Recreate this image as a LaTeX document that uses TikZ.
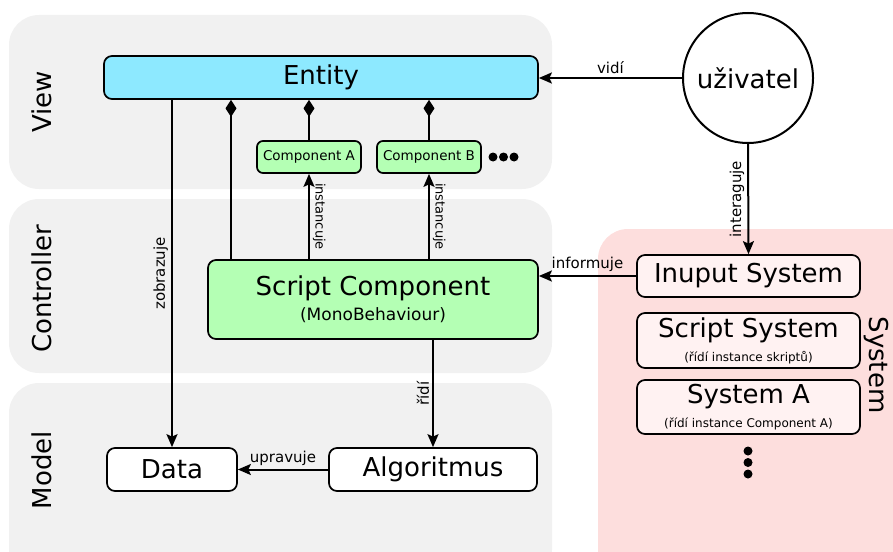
\documentclass[tikz,border=0pt]{standalone}
\usepackage{fontspec}
\setmainfont{DejaVu Sans}
\usetikzlibrary{arrows.meta}
\definecolor{panelgray}{RGB}{241,241,241}
\definecolor{syspink}{RGB}{253,222,221}
\definecolor{entitycyan}{RGB}{141,233,255}
\definecolor{compgreen}{RGB}{180,255,180}
\definecolor{sysbox}{RGB}{255,242,242}
\begin{document}
\begin{tikzpicture}[x=1pt,y=-1pt,
    box/.style={draw, line width=1.7pt, rounded corners=8pt, align=center, inner sep=0pt},
    big/.style={font=\fontsize{26}{28}\selectfont},
    lbl/.style={font=\fontsize{15}{17}\selectfont, inner sep=3pt},
    small/.style={font=\fontsize{13}{15}\selectfont, inner sep=3pt},
    arr/.style={line width=2pt, -{Stealth[length=13pt,width=11pt,inset=2.5pt]}},
    part/.style={line width=2pt, -{Diamond[length=17pt,width=11pt]}},
    panel/.style={rounded corners=30pt}]
  \useasboundingbox (0,0) rectangle (893,551);
  \begin{scope}
    \clip (0,0) rectangle (893,551);
    \fill[panel, panelgray] (9,15) rectangle (552,189);
    \fill[panel, panelgray] (9,199) rectangle (552,373);
    \fill[panel, panelgray] (9,383) rectangle (552,580);
    \fill[panel, syspink] (598,229) rectangle (924,580);
  \end{scope}

  \node[big, rotate=90] (view) at (42,102) {View};
  \node[big, rotate=90] (controller) at (42,289) {Controller};
  \node[big, rotate=90] (model) at (42,470) {Model};
  \node[big, rotate=-90] (system) at (876,365) {System};

  \node[box, big, fill=entitycyan, minimum width=434pt, minimum height=43pt] (entity) at (321,77.5) {Entity};
  \node[draw, circle, line width=2pt, fill=white, minimum size=130pt, big] (user) at (748,78) {uživatel};
  \node[box, fill=compgreen, rounded corners=6pt, minimum width=104pt, minimum height=32pt,
        font=\fontsize{13.5}{15}\selectfont] (compa) at (309,157) {Component A};
  \node[box, fill=compgreen, rounded corners=6pt, minimum width=104pt, minimum height=32pt,
        font=\fontsize{13.5}{15}\selectfont] (compb) at (429,157) {Component B};
  \fill (493,157) circle[radius=4.5pt] (503.5,157) circle[radius=4.5pt] (514,157) circle[radius=4.5pt];

  \node[box, big, fill=compgreen, minimum width=330pt, minimum height=79pt] (script) at (373,299.5)
    {Script Component\\[-3pt]\fontsize{17}{19}\selectfont(MonoBehaviour)};
  \node[box, big, fill=white, minimum width=130pt, minimum height=43pt] (data) at (172,469.5) {Data};
  \node[box, big, fill=white, minimum width=208pt, minimum height=43pt] (algo) at (433,469.5) {Algoritmus};

  \node[box, big, fill=sysbox, minimum width=223pt, minimum height=42pt] (input) at (748.5,276) {Inuput System};
  \node[box, big, fill=sysbox, minimum width=223pt, minimum height=55pt] (scriptsys) at (748.5,340.5)
    {Script System\\[-4pt]\fontsize{12}{13}\selectfont(řídí instance skriptů)};
  \node[box, big, fill=sysbox, minimum width=223pt, minimum height=54pt] (sysa) at (748.5,407)
    {System A\\[-4pt]\fontsize{12}{13}\selectfont(řídí instance Component A)};
  \fill (748,451) circle[radius=4.5pt] (748,462.5) circle[radius=4.5pt] (748,474) circle[radius=4.5pt];

  \coordinate (own) at (231,0);
  \draw[part] (own |- script.north) -- (own |- entity.south);
  \draw[part] (compa.north) -- (compa.north |- entity.south);
  \draw[part] (compb.north) -- (compb.north |- entity.south);

  \draw[arr] (compa |- script.north) -- (compa.south) node[midway, rotate=-90, anchor=south, small] {instancuje};
  \draw[arr] (compb |- script.north) -- (compb.south) node[midway, rotate=-90, anchor=south, small] {instancuje};
  \draw[arr] (data |- entity.south) -- (data.north) node[midway, rotate=90, anchor=south, lbl] {zobrazuje};
  \draw[arr] (algo |- script.south) -- (algo.north) node[midway, rotate=90, anchor=south, lbl] {řídí};
  \draw[arr] (algo.west) -- (data.east) node[midway, above, lbl] {upravuje};
  \draw[arr] (user.west) -- (user.west -| entity.east) node[midway, above, lbl] {vidí};
  \draw[arr] (user.south) -- (input.north) node[midway, rotate=90, anchor=south, lbl] {interaguje};
  \draw[arr] (input.west) -- (input.west -| script.east) node[midway, above, lbl] {informuje};
\end{tikzpicture}
\end{document}
